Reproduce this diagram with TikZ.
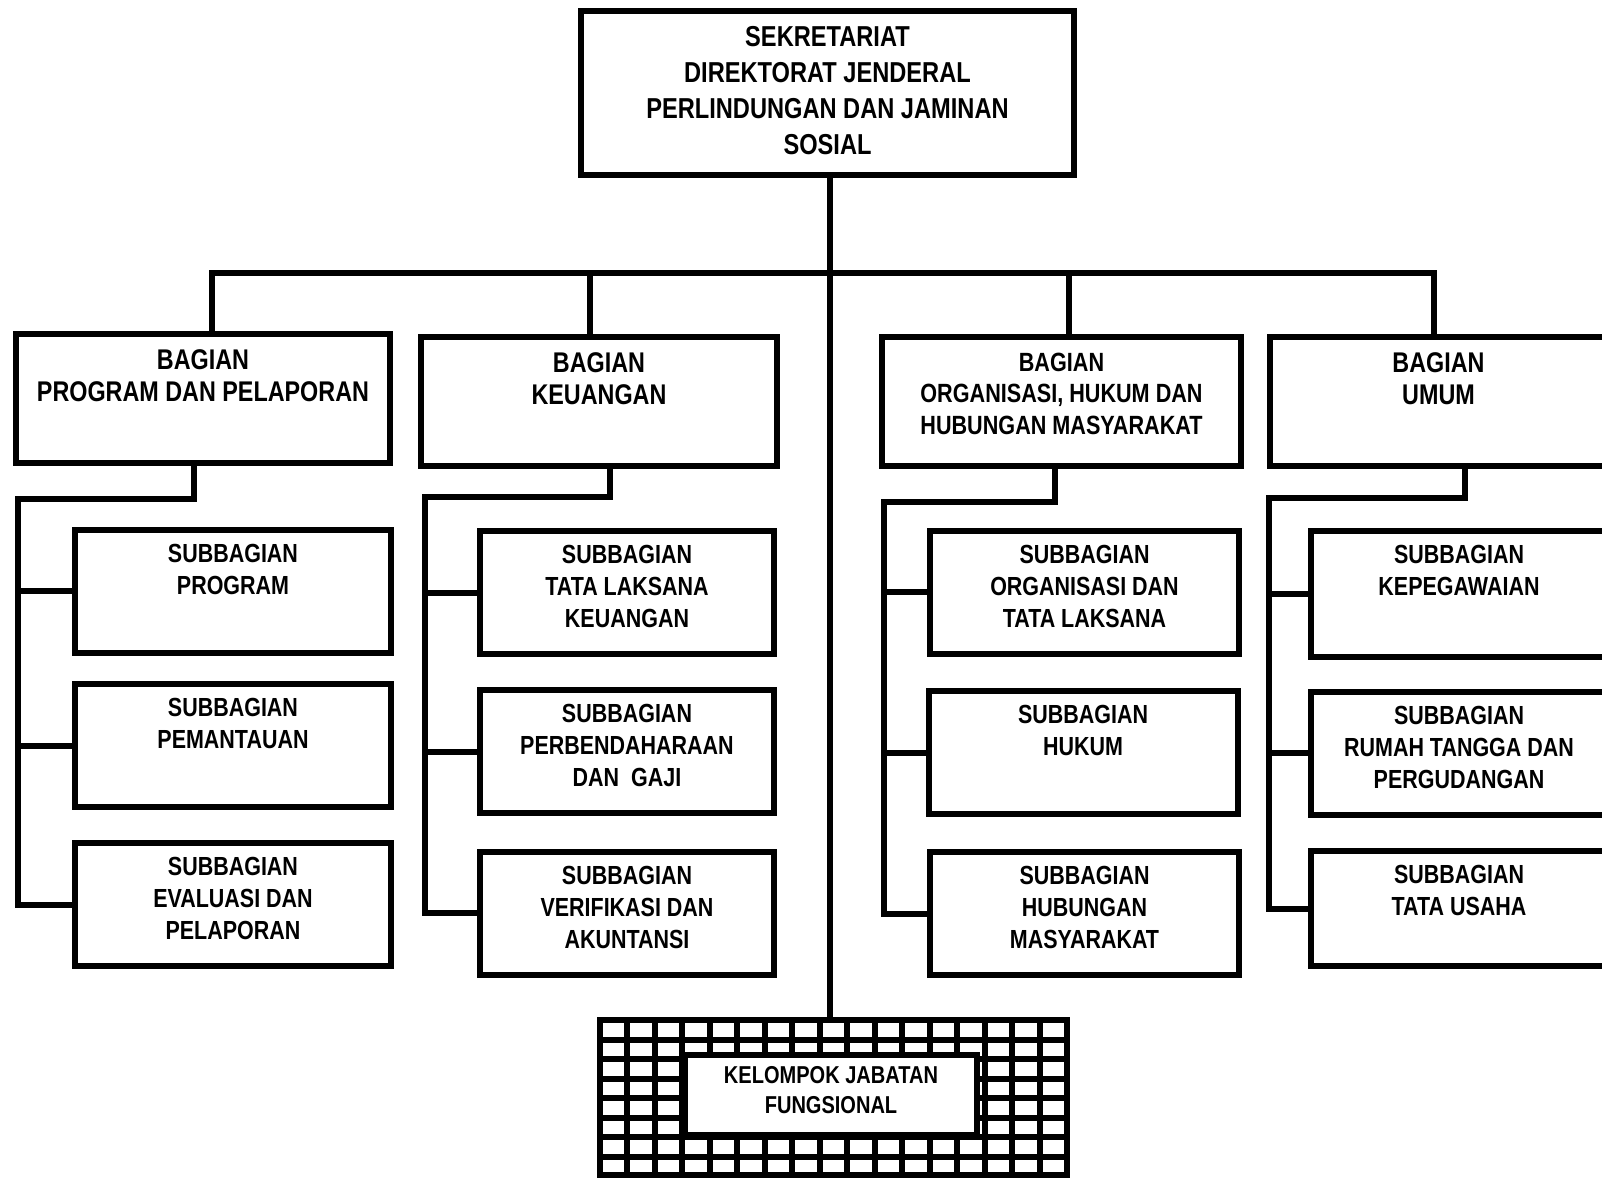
\documentclass[tikz,border=0pt]{standalone}
\usepackage{fontspec}
\setmainfont{Liberation Sans}[FakeStretch=0.82]
\usetikzlibrary{positioning}

\tikzset{
  box/.style={draw, line width=0.06cm, inner sep=0pt, outer sep=0pt, fill=white},
  bag/.style={box, minimum height=1.29cm},
  sub/.style={box, minimum height=1.23cm},
  conn/.style={line width=0.06cm, line cap=rect},
  grid line/.style={line width=0.06cm},
  lbl/.style={align=center, inner sep=0pt, font=\bfseries\fontsize{7.45}{9.1}\selectfont},
  lbl bag/.style={lbl, font=\bfseries\fontsize{8.1}{9.1}\selectfont},
}

\begin{document}
\begin{tikzpicture}
\path[use as bounding box, clip] (0, 0) rectangle (16.02, -11.78);

% sekretariat
\node at (8.275, -0.93) (T) [box, minimum width=4.93cm, minimum height=1.64cm] {};
\node (tT) [lbl, font=\bfseries\fontsize{8.2}{10.2}\selectfont, below=0.15cm of T.north]
  {SEKRETARIAT\\DIREKTORAT JENDERAL\\PERLINDUNGAN DAN JAMINAN\\SOSIAL};

% bagian
\node at (2.03, -3.985) (B1) [bag, minimum width=3.74cm] {};
\node at (5.99, -4.015) (B2) [bag, minimum width=3.56cm] {};
\node at (10.615, -4.015) (B3) [bag, minimum width=3.59cm] {};
\node at (14.385, -4.015) (B4) [bag, minimum width=3.37cm] {};
\node (tB1) [lbl bag, below=0.15cm of B1.north] {BAGIAN\\PROGRAM DAN PELAPORAN};
\node (tB2) [lbl bag, below=0.15cm of B2.north] {BAGIAN\\KEUANGAN};
\node (tB3) [lbl, font=\bfseries\fontsize{7.5}{9.0}\selectfont, below=0.15cm of B3.north]
  {BAGIAN\\ORGANISASI, HUKUM DAN\\HUBUNGAN MASYARAKAT};
\node (tB4) [lbl bag, below=0.15cm of B4.north] {BAGIAN\\UMUM};

% subbagian
\node at (2.33, -5.91) (B1a) [sub, minimum width=3.16cm] {};
\node at (2.33, -7.455) (B1b) [sub, minimum width=3.16cm] {};
\node at (2.33, -9.045) (B1c) [sub, minimum width=3.16cm] {};
\node at (6.27, -5.925) (B2a) [sub, minimum width=2.94cm] {};
\node at (6.27, -7.515) (B2b) [sub, minimum width=2.94cm] {};
\node at (6.27, -9.13) (B2c) [sub, minimum width=2.94cm] {};
\node at (10.845, -5.92) (B3a) [sub, minimum width=3.09cm] {};
\node at (10.83, -7.525) (B3b) [sub, minimum width=3.09cm] {};
\node at (10.845, -9.135) (B3c) [sub, minimum width=3.09cm] {};
\node at (14.59, -5.94) (B4a) [sub, minimum width=2.96cm, minimum height=1.26cm] {};
\node at (14.59, -7.53) (B4b) [sub, minimum width=2.96cm] {};
\node at (14.59, -9.085) (B4c) [sub, minimum width=2.96cm, minimum height=1.15cm] {};

\node (tB1a) [lbl, below=0.14cm of B1a.north] {SUBBAGIAN\\PROGRAM};
\node (tB1b) [lbl, below=0.14cm of B1b.north] {SUBBAGIAN\\PEMANTAUAN};
\node (tB1c) [lbl, below=0.14cm of B1c.north] {SUBBAGIAN\\EVALUASI DAN\\PELAPORAN};
\node (tB2a) [lbl, below=0.14cm of B2a.north] {SUBBAGIAN\\TATA LAKSANA\\KEUANGAN};
\node (tB2b) [lbl, below=0.14cm of B2b.north] {SUBBAGIAN\\PERBENDAHARAAN\\DAN\ \ GAJI};
\node (tB2c) [lbl, below=0.14cm of B2c.north] {SUBBAGIAN\\VERIFIKASI DAN\\AKUNTANSI};
\node (tB3a) [lbl, below=0.14cm of B3a.north] {SUBBAGIAN\\ORGANISASI DAN\\TATA LAKSANA};
\node (tB3b) [lbl, below=0.14cm of B3b.north] {SUBBAGIAN\\HUKUM};
\node (tB3c) [lbl, below=0.14cm of B3c.north] {SUBBAGIAN\\HUBUNGAN\\MASYARAKAT};
\node (tB4a) [lbl, below=0.14cm of B4a.north] {SUBBAGIAN\\KEPEGAWAIAN};
\node (tB4b) [lbl, below=0.14cm of B4b.north] {SUBBAGIAN\\RUMAH TANGGA DAN\\PERGUDANGAN};
\node (tB4c) [lbl, below=0.14cm of B4c.north] {SUBBAGIAN\\TATA USAHA};

% kelompok jabatan fungsional
\node at (8.335, -10.975) (G) [box, minimum width=4.67cm, minimum height=1.55cm] {};
\foreach \i in {1,...,16}
  \draw[grid line] ({6.00 + \i*0.2747}, -10.20) -- ++(0, -1.56);
\foreach \j in {1,...,7}
  \draw[grid line] (6.00, {-10.20 - \j*0.195}) -- ++(4.67, 0);
\node at (8.31, -10.95) (K) [box, minimum width=2.92cm, minimum height=0.80cm] {};
\node (tK) [lbl, font=\bfseries\fontsize{6.95}{8.4}\selectfont] at ([yshift=0.05cm]K.center)
  {KELOMPOK JABATAN\\FUNGSIONAL};

% garis
\coordinate (spine) at (8.30, -2.73);
\coordinate (d1) at (2.12, -2.73);
\coordinate (d2) at (5.90, -2.73);
\coordinate (d3) at (10.69, -2.73);
\coordinate (d4) at (14.34, -2.73);
\draw[conn] (spine |- T.south) -- (spine |- G.north);
\draw[conn] (d1) -- (d4);
\foreach \d/\b in {d1/B1, d2/B2, d3/B3, d4/B4}
  \draw[conn] (\d) -- (\d |- \b.north);

\coordinate (h1) at (1.94, -4.99);
\coordinate (v1) at (0.18, -4.99);
\coordinate (h2) at (6.10, -4.97);
\coordinate (v2) at (4.25, -4.97);
\coordinate (h3) at (10.55, -5.02);
\coordinate (v3) at (8.84, -5.02);
\coordinate (h4) at (14.65, -4.98);
\coordinate (v4) at (12.69, -4.98);
\foreach \n in {1,2,3,4} {
  \draw[conn] (h\n |- B\n.south) -- (h\n) -- (v\n) |- (B\n c.west);
  \draw[conn] (v\n |- B\n a.west) -- (B\n a.west);
  \draw[conn] (v\n |- B\n b.west) -- (B\n b.west);
}
\end{tikzpicture}
\end{document}
